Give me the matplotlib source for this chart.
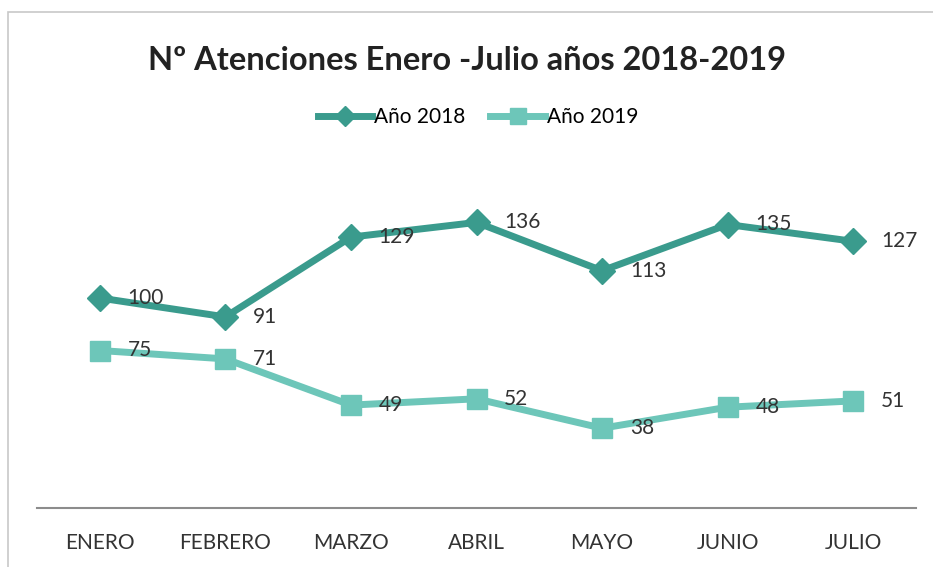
import matplotlib.pyplot as plt
from matplotlib.patches import Rectangle

plt.rcParams['font.family'] = ['Lato', 'DejaVu Sans']

# datos
meses = ['ENERO', 'FEBRERO', 'MARZO', 'ABRIL', 'MAYO', 'JUNIO', 'JULIO']
anio_2018 = [100, 91, 129, 136, 113, 135, 127]
anio_2019 = [75, 71, 49, 52, 38, 48, 51]

color_2018 = '#3a9b8d'
color_2019 = '#6dc6b9'

fig = plt.figure(figsize=(9.33, 5.67), dpi=100)
ax = fig.add_axes([37 / 933, 59 / 567, 879 / 933, 336 / 567])

x = list(range(len(meses)))
ax.plot(x, anio_2018, color=color_2018, lw=5, marker='D', ms=13,
        label='Año 2018')
ax.plot(x, anio_2019, color=color_2019, lw=5, marker='s', ms=15,
        label='Año 2019')

# etiquetas de datos a la derecha
for i, v in enumerate(anio_2018):
    ax.annotate(str(v), (i, v), xytext=(20, 0), textcoords='offset points',
                va='center', ha='left', fontsize=15, color='#333333')
for i, v in enumerate(anio_2019):
    ax.annotate(str(v), (i, v), xytext=(20, 0), textcoords='offset points',
                va='center', ha='left', fontsize=15, color='#333333')

ax.set_xlim(-0.5, len(meses) - 0.5)
ax.set_ylim(0, 160)
ax.set_xticks(x)
ax.set_xticklabels(meses, fontsize=15, color='#333333')
ax.tick_params(axis='x', length=0, pad=18)
ax.set_yticks([])
for s in ['top', 'right', 'left']:
    ax.spines[s].set_visible(False)
ax.spines['bottom'].set_color('#8c8c8c')
ax.spines['bottom'].set_linewidth(1.5)

fig.text(0.5, 1 - 60 / 567, 'Nº Atenciones Enero -Julio años 2018-2019',
         ha='center', va='center', fontsize=23.5, fontweight='bold',
         color='#222222')

fig.legend(loc='center', bbox_to_anchor=(478 / 933, 1 - 117 / 567), ncol=2,
           frameon=False, fontsize=15, handlelength=2.6, columnspacing=1.2,
           handletextpad=0.1, markerscale=0.75)

# borde del área del gráfico
fig.patches.append(Rectangle((8 / 933, -0.05), 1.2, 1 - 12 / 567 + 0.05,
                             transform=fig.transFigure, fill=False,
                             edgecolor='#c8c8c8', lw=1.2))

fig.savefig('out.png', dpi=100)
